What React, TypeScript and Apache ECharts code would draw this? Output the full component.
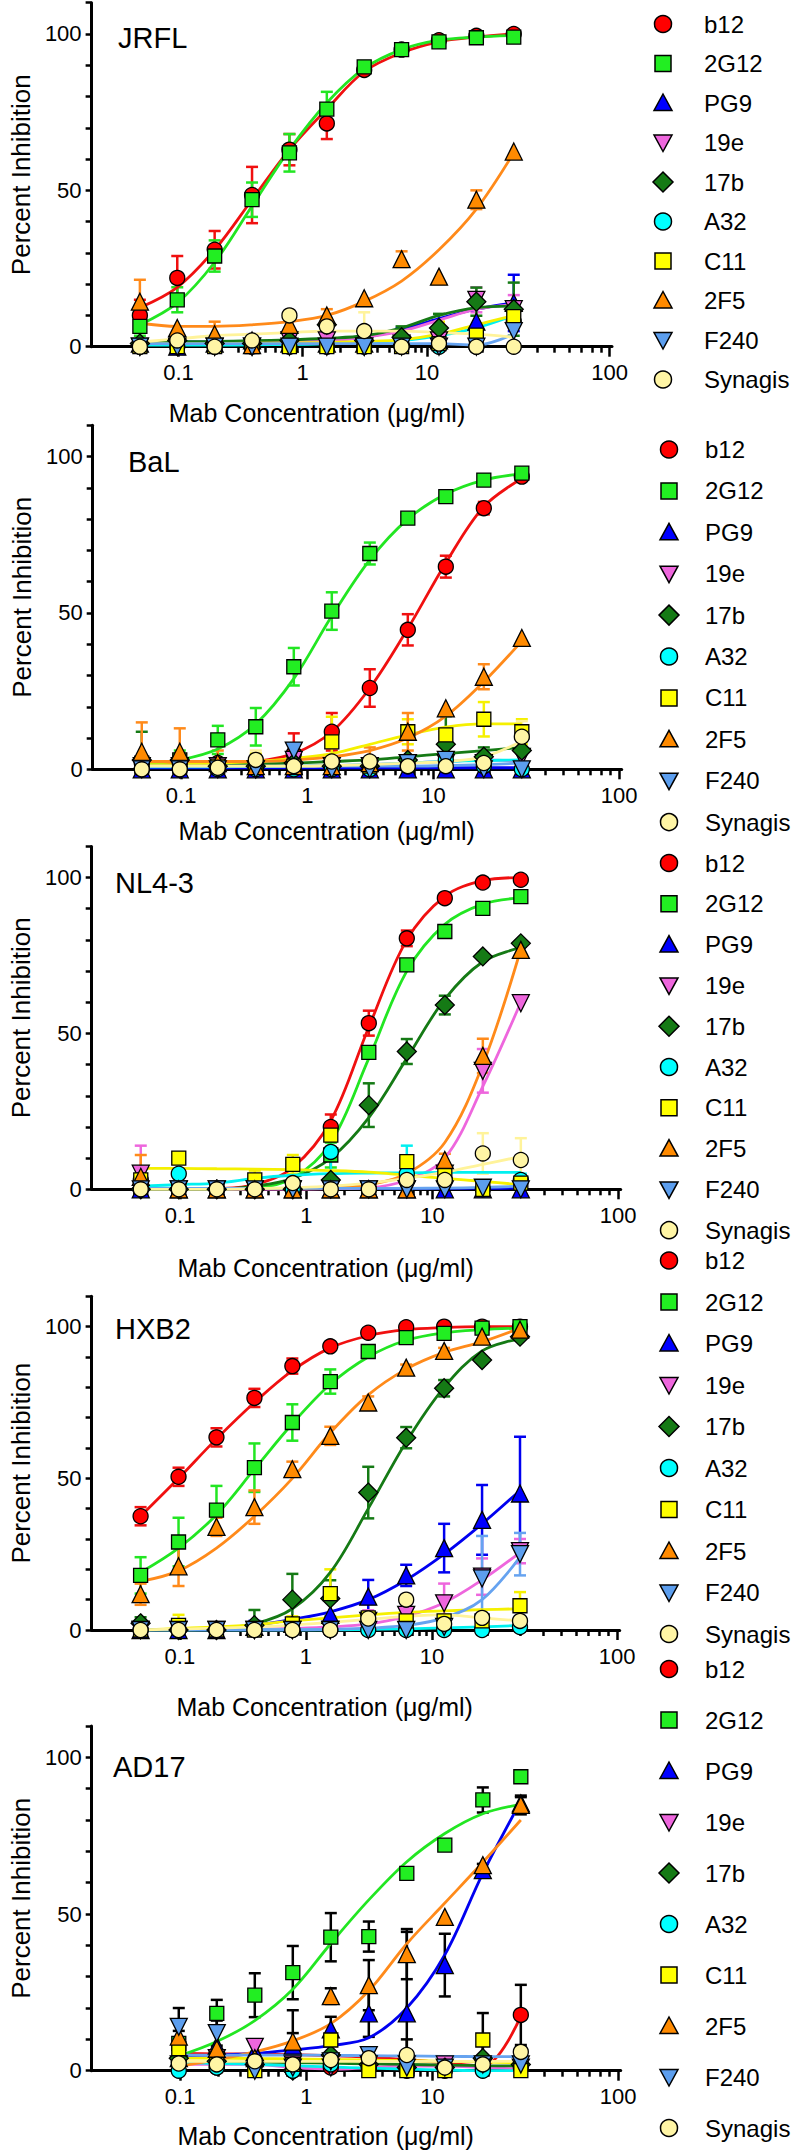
import React, { useEffect, useRef } from 'react';
import * as echarts from 'echarts';

// ---------------- data ----------------
const CONC = [0.048828125, 0.09765625, 0.1953125, 0.390625, 0.78125, 1.5625, 3.125, 6.25, 12.5, 25, 50];
const ANTIBODIES = ['b12', '2G12', 'PG9', '19e', '17b', 'A32', 'C11', '2F5', 'F240', 'Synagis'];
const PANELS = ['JRFL', 'BaL', 'NL4-3', 'HXB2', 'AD17'];
const X_TICK_LABELS = ['0.1', '1', '10', '100'];
const Y_TICK_LABELS = [0, 50, 100];
const X_NAME = 'Mab Concentration (\u03bcg/ml)';
const Y_NAME = 'Percent Inhibition';

// rows follow ANTIBODIES, columns follow CONC
const JRFL_MEAN = [
  [10, 22, 31, 48.5, 63, 71.4, 88.5, 95, 98, 99.4, 100],
  [6.5, 15, 29, 47, 62, 76, 89.5, 95, 97.5, 98.8, 99],
  [1, 0, 1, 2, 1, 1, 1, 3, 2, 8, 14],
  [0, 0, 0, 0, 2, 2, 0, 1, 2, 15, 12],
  [1, 2, 1, 1, 2, 7, 2, 3, 6, 14.4, 12],
  [0, 0, 0, 0, 0, 0, 0, 0, 0, 0, 8],
  [0, 0, 0, 0, 0, 0, 0, 0, 1, 3.7, 9.6],
  [14.4, 6, 4, 0.5, 7, 10, 15.5, 28, 22.4, 47, 62.4],
  [0, 0, 0, 0, 0, 0, 0, 0, 0, 0, 5],
  [0, 2, 0, 2, 10, 6.5, 5, 0, 1, 0, 0],
];
const JRFL_SEM = [
  [5, 7, 6, 9, 5, 5, 1, 1, 1, 1, 0.5],
  [3, 4, 5, 5.5, 6, 5.5, 1, 1, 1, 1, 1],
  [0, 0, 0, 2, 0, 0, 0, 3, 0, 0, 9],
  [0, 0, 0, 0, 0, 0, 0, 0, 0, 4, 4.5],
  [0, 0, 0, 0, 0, 2, 0, 3.5, 4.5, 4.5, 8.5],
  [0, 0, 0, 0, 0, 0, 0, 0, 0, 0, 0],
  [0, 0, 0, 0, 0, 0, 0, 0, 7, 0, 0],
  [7, 0, 4, 0, 0, 2, 0, 2.5, 0, 3, 0],
  [0, 0, 0, 0, 0, 0, 0, 0, 0, 0, 0],
  [0, 0, 0, 0, 0, 0, 6, 0, 0, 0, 0],
];
const JRFL_FIT = [
  [12.5, 19, 31, 47, 63, 76, 88, 94, 97.5, 99, 100],
  [7, 14, 27, 45, 63, 78, 89, 95, 98, 99, 99.5],
  [1.5, 1.5, 1.5, 1.6, 1.8, 2.2, 3, 5.5, 9, 12, 14],
  [1.2, 1.2, 1.3, 1.4, 1.6, 2, 3, 5, 8.5, 12, 13.5],
  [1.5, 1.6, 1.7, 1.9, 2.2, 2.7, 3.5, 6, 10, 12.5, 13],
  [0.5, 0.5, 0.5, 0.6, 0.7, 0.9, 1.3, 2, 3.5, 6, 10],
  [1, 1, 1, 1.1, 1.2, 1.4, 1.7, 2.2, 4, 7, 10],
  [7.5, 6.5, 6.5, 7, 8, 10, 14.5, 21, 31, 44, 62],
  [1, 1, 1, 1, 1, 1, 1, 1, 1, 0.5, 4],
  [1.5, 2.5, 3.5, 4, 4.5, 5, 5, 5, 4.5, 4, 3],
];

const BAL_MEAN = [
  [2, 2, 2, 1, 5, 12, 26, 44.6, 64.8, 83.5, 93.6],
  [2, 3, 9.4, 13.6, 32.8, 50.6, 69, 80.3, 87.2, 92.5, 94.7],
  [0, 0, 0, 0, 0, 0, 0, 0, 0, 0, 0],
  [1, 1, 1, 0, 3, 1, 1, 2, 2, 2, 4],
  [3, 3, 1, 1, 2, 1, 1, 3, 8, 4, 6],
  [0, 0, 0, 0, 0, 0, 0, 1, 3, 1, 0],
  [1, 1, 1, 1, 1, 8.8, 1, 12, 11, 16, 12],
  [5.6, 5.6, 2, 1, 1, 1, 2, 12, 19.5, 29.6, 42],
  [0, 0, 0, 0, 6, 0, 0, 2, 3, 0, 0],
  [0, 0, 0.5, 3, 1, 2.5, 2.5, 1, 1, 2, 10.4],
];
const BAL_SEM = [
  [0, 0, 0, 0, 6.5, 6, 6, 5, 3.5, 2, 0],
  [0, 3, 4.5, 6, 6, 6, 3.5, 1, 1, 1, 0.5],
  [0, 0, 0, 0, 0, 0, 0, 0, 0, 0, 0],
  [0, 0, 0, 0, 0, 0, 0, 0, 0, 0, 0],
  [9, 0, 0, 0, 0, 0, 0, 0, 9, 3, 4],
  [0, 0, 0, 0, 0, 0, 0, 0, 0, 0, 0],
  [3, 0, 0, 4, 0, 8, 0, 4, 0, 5.5, 4],
  [9.4, 7.5, 4, 0, 0, 0, 5, 6, 0, 4, 0],
  [0, 0, 0, 0, 0, 0, 0, 0, 0, 0, 0],
  [0, 0, 0, 3, 0, 0, 0, 0, 0, 0, 5],
];
const BAL_FIT = [
  [2, 2, 2, 2.5, 5, 12, 26, 45, 66, 84, 93],
  [1.5, 3, 6.5, 14.5, 29, 49, 67, 80, 88, 92.5, 94.5],
  [0.5, 0.5, 0.5, 0.5, 0.5, 0.5, 0.5, 0.5, 0.5, 0.5, 0.5],
  [1, 1, 1, 1, 1, 1.2, 1.5, 2, 2.5, 3, 2.5],
  [1.2, 1.3, 1.5, 1.7, 2, 2.5, 3, 4, 5, 6, 7],
  [0.8, 0.8, 0.8, 0.9, 1, 1.2, 1.5, 2, 2.5, 2.8, 3],
  [1.5, 1.5, 2, 2.5, 3.5, 5, 8, 11, 13.5, 14.5, 14.5],
  [2.5, 2.5, 2.5, 2.5, 3, 4, 6, 10, 17, 28, 41],
  [1, 1, 1, 1, 1, 1, 1, 1, 1.2, 1.5, 2],
  [1, 1, 1, 1, 1, 1.2, 1.5, 2, 2.5, 4, 9],
];

const NL43_MEAN = [
  [0, 0, 0, 0, 0, 20, 53.3, 80.5, 93.4, 98.4, 99.3],
  [0, 0, 0, 0, 0, 11, 43.9, 72, 82.7, 90.1, 93.9],
  [0, 0, 0, 0, 0, 0, 0, 0, 0, 0, 0],
  [5, 0, 0, 0, 0, 0, 0, 0, 5, 38, 59.7],
  [0, 0, 0, 0, 0, 3, 27, 44.2, 59.1, 74.7, 78.9],
  [3, 5, 0, 0, 0, 12, 0, 5, 3, 0, 3],
  [3, 10, 0, 3, 8, 17.4, 0, 8.9, 5, 0, 2],
  [4, 0, 0, 0, 0, 0, 0, 0, 9.4, 42.8, 76.8],
  [0, 0, 0, 0, 0, 0, 0, 0, 0, 0.5, 0],
  [0, 0, 0, 0, 2, 0, 0, 3, 3, 11.5, 9.4],
];
const NL43_SEM = [
  [0, 0, 0, 0, 0, 4, 4, 2.5, 1, 0.5, 0.5],
  [0, 0, 0, 0, 0, 4, 0, 1, 1, 1, 0.5],
  [0, 0, 0, 0, 0, 0, 0, 0, 0, 0, 0],
  [9, 0, 0, 0, 0, 0, 0, 0, 0, 7, 0],
  [0, 0, 0, 0, 0, 7, 7, 4, 3, 1, 1],
  [0, 0, 0, 0, 0, 9, 0, 9, 0, 0, 2],
  [0, 0, 0, 3, 3, 0, 0, 0, 0, 0, 0],
  [7, 0, 0, 0, 0, 0, 0, 0, 2, 5.5, 2],
  [0, 0, 0, 0, 0, 0, 0, 0, 0, 0, 0],
  [0, 0, 0, 0, 0, 0, 0, 0, 0, 6.5, 7],
];
const NL43_FIT = [
  [0, 0, 0.2, 1.5, 7, 22, 52, 80, 94, 99, 100],
  [0, 0, 0, 0.5, 3.5, 15, 42, 70, 85, 91.5, 93.5],
  [0.3, 0.3, 0.3, 0.3, 0.3, 0.3, 0.3, 0.3, 0.3, 0.3, 0.5],
  [0, 0, 0, 0, 0, 0.2, 0.5, 3, 10, 33, 60],
  [0, 0, 0, 1, 3.5, 10, 23, 42, 61, 73, 77.5],
  [1, 1.5, 2, 3.5, 4.5, 5, 5.2, 5.3, 5.4, 5.4, 5.4],
  [6.7, 6.7, 6.6, 6.5, 6.3, 6, 5.5, 4.5, 3.5, 2.5, 1.5],
  [0.2, 0.2, 0.2, 0.2, 0.2, 0.5, 1.5, 5, 15, 40, 77],
  [0.3, 0.3, 0.3, 0.3, 0.3, 0.3, 0.3, 0.3, 0.4, 0.6, 1],
  [0, 0, 0, 0.2, 0.5, 1, 2, 3.5, 5.5, 8, 10.5],
];

const HXB2_MEAN = [
  [37.5, 50.5, 63.5, 76.5, 87, 93.5, 98, 99.8, 100, 100, 100],
  [18, 29, 39.5, 53.5, 68.4, 81.9, 91.8, 96.4, 97.8, 99.5, 100],
  [0, 0, 0, 1, 2, 5, 11, 18, 27, 36.3, 45],
  [0, 0, 0, 0, 0, 0, 3, 5, 8.8, 17.6, 26],
  [2.2, 0, 0, 1.6, 10, 10.4, 45.3, 63.4, 79.7, 89, 96.7],
  [0, 0, 0, 0, 0, 0, 0, 0, 0, 0, 1],
  [0, 1.5, 0, 0, 2, 12, 4, 3, 3, 3, 8],
  [11.8, 21, 34, 40.5, 53, 64, 75, 86.5, 92, 96.7, 99],
  [0, 0, 0, 0, 0, 0, 0, 0, 1, 17, 25],
  [0, 0, 0, 0, 0, 0, 3.8, 10, 2, 4, 3],
];
const HXB2_SEM = [
  [3, 3, 3, 3, 2.5, 1, 0.5, 0.5, 0.5, 0.5, 0.5],
  [6, 8, 8, 8, 6, 4, 2, 1, 1, 1, 0.5],
  [0, 0, 0, 2, 0, 0, 5.5, 3.5, 8, 11.5, 18.7],
  [0, 0, 0, 0, 0, 0, 3.5, 3, 6.5, 6, 4],
  [2, 0, 0, 5, 8.5, 6, 8.5, 3.5, 2.7, 1, 1],
  [0, 0, 0, 0, 0, 0, 0, 0, 0, 0, 0],
  [0, 3.5, 0, 0, 2.5, 8, 0, 4, 0, 0, 4.5],
  [3.5, 6.5, 3, 5.5, 2.5, 3, 2, 1, 1, 1, 1],
  [0, 0, 0, 0, 0, 0, 0, 0, 0, 14, 7],
  [0, 0, 0, 0, 0, 0, 0, 0, 0, 0, 0],
];
const HXB2_FIT = [
  [37.5, 50, 63, 75, 85.5, 93, 97, 99, 99.7, 100, 100],
  [19, 27, 38, 53, 68, 81, 90, 95.5, 98, 99, 99.5],
  [0, 0.2, 0.5, 1.5, 3.5, 6, 10, 16.5, 25, 35, 46],
  [0, 0, 0.1, 0.2, 0.5, 1, 2, 4.5, 9, 16.5, 25.5],
  [0, 0, 0.5, 2, 7, 19, 40, 62, 80, 92, 96],
  [0, 0, 0, 0, 0, 0, 0.2, 0.4, 0.7, 1, 1.5],
  [0, 0.5, 1, 1.8, 3, 4, 5, 5.8, 6.3, 6.7, 7],
  [16, 19.5, 27, 37.5, 50, 65, 77.5, 86, 91.5, 95, 99.5],
  [0, 0, 0, 0, 0, 0.2, 0.6, 1.5, 4, 10, 24],
  [0, 0.3, 0.6, 1, 1.6, 2.5, 3.5, 4.5, 5, 4, 3],
];

const AD17_MEAN = [
  [null, 3, 1, 2, 0, 1, 1, 0, 0, 1, 17.8],
  [null, 8.7, 18.3, 24.1, 31.3, 42.6, 42.8, 63, 72, 86.4, 93.8],
  [null, 4, 8, 6, 8, 13.2, 18.3, 18.3, 33.7, 64, 85.3],
  [null, 2, 4, 7.6, 2, 1, 2, 2, 2, 1, 1],
  [null, 4, 3, 2, 0, 5, 2, 1, 1, 4, 2],
  [null, 0, 1, 2, 0, 2, 1, 1, 1, 0, 1],
  [null, 7, 4, 0, 2, 9.8, 0, 0, 0, 9.8, 0],
  [null, 10.9, 7, 4, 9.3, 23.8, 27.3, 37.2, 49.1, 65.6, 84.8],
  [null, 14, 12, 0, 1, 3, 5, 1, 1, 2, 2],
  [null, 2.3, 2, 3, 2, 3.4, 4, 5, 1, 2, 6],
];
const AD17_SEM = [
  [0, 0, 0, 0, 0, 0, 0, 0, 0, 0, 9.6],
  [0, 4, 4.3, 7, 8.5, 7.7, 4.8, 0, 0, 4, 0],
  [0, 0, 0, 0, 4, 4, 7.5, 26, 10, 2, 2],
  [0, 0, 0, 0, 0, 0, 0, 0, 0, 0, 0],
  [0, 0, 0, 0, 0, 0, 0, 0, 0, 0, 0],
  [0, 0, 0, 0, 0, 0, 0, 0, 0, 0, 0],
  [0, 0, 0, 0, 0, 0, 0, 0, 0, 8.6, 0],
  [0, 0, 0, 0, 10, 2.5, 8, 8, 0, 0, 3],
  [0, 6, 4, 0, 0, 0, 0, 0, 0, 0, 0],
  [0, 0, 0, 0, 0, 0, 0, 5, 0, 8, 0],
];
const AD17_FIT = [
  [null, 5.5, 5.4, 5.3, 5.1, 4.8, 4.3, 3.5, 2.5, 1.5, 17.5],
  [null, 4.7, 9.3, 16, 26, 40.6, 54.5, 66.7, 75.7, 82, 85],
  [null, 4.7, 5, 5.5, 6.6, 8, 10.5, 20, 37, 63, 86],
  [null, 2, 2, 2, 1, 0.5, 1, 1.5, 1.5, 1, 0.5],
  [null, 3, 3, 2.8, 2.6, 2.4, 2.2, 2, 1.8, 1.6, 1.5],
  [null, 2.5, 2.3, 2, 1.6, 1.2, 0.8, 0.5, 0.2, 0, 0],
  [null, 4, 4, 3.9, 3.8, 3.6, 3.4, 3.2, 3, 2.8, 2.5],
  [null, 1.3, 3.5, 6, 9.5, 15, 25.5, 40.5, 53.5, 66.5, 80],
  [null, 5, 5, 5, 5, 4.9, 4.8, 4.7, 4.6, 4.5, 4.5],
  [null, 3, 3, 3, 3, 3, 3, 3, 3, 3, 3],
];

const PANEL_MEAN = [JRFL_MEAN, BAL_MEAN, NL43_MEAN, HXB2_MEAN, AD17_MEAN];
const PANEL_SEM = [JRFL_SEM, BAL_SEM, NL43_SEM, HXB2_SEM, AD17_SEM];
const PANEL_FIT = [JRFL_FIT, BAL_FIT, NL43_FIT, HXB2_FIT, AD17_FIT];

// ---------------- styles / layout ----------------
const FONT = "'Liberation Sans', Arial, Helvetica, sans-serif";
const FILL = ['#FF0000', '#22EE22', '#0000FF', '#EE66DD', '#157A15', '#00FFFF', '#FFFF00', '#FF8A00', '#5C9EEE', '#FFF5A5'];
const LINE = ['#F01010', '#22E622', '#0000F0', '#EE66DD', '#157A15', '#00F0F0', '#F5F000', '#FF8A1A', '#66A3F0', '#FFF39A'];
const SYMBOL = ['circle', 'rect', 'triangle', 'triangle', 'diamond', 'circle', 'rect', 'triangle', 'triangle', 'circle'];
const ROTATE = [0, 0, 0, 180, 0, 0, 0, 0, 180, 0];
const SIZE = [15, 14, 17, 17, 19, 15, 14, 17, 17, 15];
const ERR_BLACK = [false, false, false, false, true];

const GRID_WIDTH = 529;
const X_MIN = -1.7;
const X_MAX = 2.49;
const X_TICK_POS = [-1, 0, 1, 2.47];
const LAYOUT = [
  { left: 83, top: 2.7, height: 344, titleX: 118, titleY: 38, xNameY: 413, legX: 663, legTextX: 704, legY0: 24, legDy: 39.5 },
  { left: 92.7, top: 425.3, height: 344, titleX: 128, titleY: 462, xNameY: 831, legX: 669, legTextX: 705, legY0: 449.5, legDy: 41.4 },
  { left: 91.7, top: 846.4, height: 342.9, titleX: 115, titleY: 883, xNameY: 1268, legX: 669, legTextX: 705, legY0: 863, legDy: 40.8 },
  { left: 90.7, top: 1296.3, height: 333.7, titleX: 115, titleY: 1329, xNameY: 1707, legX: 669, legTextX: 705, legY0: 1260.5, legDy: 41.5 },
  { left: 91.7, top: 1726, height: 344.7, titleX: 113, titleY: 1767, xNameY: 2136, legX: 669, legTextX: 705, legY0: 1669, legDy: 51 },
];

function minorTicks(): number[] {
  const out: number[] = [];
  for (let k = 2; k <= 9; k++) out.push(Math.log10(k / 10));
  for (let k = 2; k <= 9; k++) out.push(Math.log10(k));
  for (let k = 2; k <= 9; k++) out.push(1 + Math.log10(k) * (X_TICK_POS[3] - 1));
  return out;
}

function legendSymbol(i: number, x: number, y: number) {
  const style = { fill: FILL[i], stroke: '#000', lineWidth: 1.5 };
  const s = SYMBOL[i];
  if (s === 'circle') return { type: 'circle', shape: { cx: x, cy: y, r: 8.5 }, style };
  if (s === 'rect') return { type: 'rect', shape: { x: x - 8, y: y - 8, width: 16, height: 16 }, style };
  if (s === 'diamond') return { type: 'polygon', shape: { points: [[x, y - 10], [x + 10, y], [x, y + 10], [x - 10, y]] }, style };
  if (ROTATE[i] === 180) return { type: 'polygon', shape: { points: [[x - 9, y - 7.5], [x + 9, y - 7.5], [x, y + 9]] }, style };
  return { type: 'polygon', shape: { points: [[x, y - 9], [x + 9, y + 7.5], [x - 9, y + 7.5]] }, style };
}

function buildOption() {
  const grid: any[] = [];
  const xAxis: any[] = [];
  const yAxis: any[] = [];
  const series: any[] = [];
  const graphic: any[] = [];
  const minor = minorTicks();

  PANELS.forEach((title, p) => {
    const L = LAYOUT[p];
    grid.push({ left: L.left, top: L.top, width: GRID_WIDTH, height: L.height, containLabel: false });
    xAxis.push({
      type: 'value', gridIndex: p, min: X_MIN, max: X_MAX, position: 'bottom',
      axisLine: { show: true, onZero: false, lineStyle: { color: '#000', width: 3 } },
      axisTick: { show: true, customValues: X_TICK_POS, length: 10, lineStyle: { color: '#000', width: 2.5 } },
      axisLabel: {
        show: true, customValues: X_TICK_POS, margin: 15, fontSize: 22, color: '#000', fontFamily: FONT,
        formatter: (v: number) => {
          const i = X_TICK_POS.findIndex((q) => Math.abs(q - v) < 1e-6);
          return i >= 0 ? X_TICK_LABELS[i] : '';
        },
      },
      splitLine: { show: false },
    });
    xAxis.push({
      type: 'value', gridIndex: p, min: X_MIN, max: X_MAX, position: 'bottom',
      axisLine: { show: false, onZero: false },
      axisTick: { show: true, customValues: minor, length: 6, lineStyle: { color: '#000', width: 2.5 } },
      axisLabel: { show: false },
      splitLine: { show: false },
    });
    yAxis.push({
      type: 'value', gridIndex: p, min: 0, max: 110, interval: 10, position: 'left',
      name: Y_NAME, nameLocation: 'middle', nameGap: 57,
      nameTextStyle: { fontSize: 26, color: '#000', fontFamily: FONT },
      axisLine: { show: true, onZero: false, lineStyle: { color: '#000', width: 3 } },
      axisTick: { show: true, length: 6, lineStyle: { color: '#000', width: 2.5 } },
      axisLabel: {
        margin: 10, fontSize: 22, color: '#000', fontFamily: FONT,
        formatter: (v: number) => (Y_TICK_LABELS.indexOf(v) >= 0 ? String(v) : ''),
      },
      splitLine: { show: false },
    });

    const mean = PANEL_MEAN[p];
    const sem = PANEL_SEM[p];
    const fit = PANEL_FIT[p];
    ANTIBODIES.forEach((ab, i) => {
      const errColor = ERR_BLACK[p] ? '#000' : LINE[i];
      const errData: number[][] = [];
      const ptData: number[][] = [];
      const fitData: number[][] = [];
      CONC.forEach((c, k) => {
        const u = Math.log10(c);
        const m = mean[i][k];
        const e = sem[i][k];
        const f = fit[i][k];
        if (m !== null && m !== undefined) {
          ptData.push([u, m]);
          if (e) errData.push([u, m, e]);
        }
        if (f !== null && f !== undefined) fitData.push([u, f]);
      });
      series.push({
        name: ab + ' ' + title + ' SEM', type: 'custom', xAxisIndex: 2 * p, yAxisIndex: p, z: 2, silent: true,
        dimensions: ['x', 'y', 'e'], encode: { x: 0, y: 1 }, data: errData,
        renderItem: (params: any, api: any) => {
          const x = api.value(0);
          const y = api.value(1);
          const e = api.value(2);
          const top = api.coord([x, Math.min(110, y + e)]);
          const bot = api.coord([x, Math.max(0, y - e)]);
          const st = { stroke: errColor, lineWidth: 2.5 };
          return {
            type: 'group',
            children: [
              { type: 'line', shape: { x1: top[0], y1: top[1], x2: bot[0], y2: bot[1] }, style: st },
              { type: 'line', shape: { x1: top[0] - 6, y1: top[1], x2: top[0] + 6, y2: top[1] }, style: st },
              { type: 'line', shape: { x1: bot[0] - 6, y1: bot[1], x2: bot[0] + 6, y2: bot[1] }, style: st },
            ],
          };
        },
      });
      series.push({
        name: ab + ' ' + title + ' fit', type: 'line', xAxisIndex: 2 * p, yAxisIndex: p, z: 3, silent: true,
        data: fitData, smooth: 0.35, showSymbol: false, symbol: 'none',
        lineStyle: { color: LINE[i], width: 2.8 },
      });
      series.push({
        name: ab, type: 'scatter', xAxisIndex: 2 * p, yAxisIndex: p, z: 4, silent: true,
        data: ptData, symbol: SYMBOL[i], symbolRotate: ROTATE[i], symbolSize: SIZE[i],
        itemStyle: { color: FILL[i], borderColor: '#000', borderWidth: 1.3, opacity: 1 },
      });
      // legend row
      const ly = L.legY0 + L.legDy * i;
      graphic.push(legendSymbol(i, L.legX, ly));
      graphic.push({
        type: 'text', x: L.legTextX, y: ly,
        style: { text: ab, fontSize: 24, fontFamily: FONT, fill: '#000', align: 'left', verticalAlign: 'middle' },
      });
    });

    // panel title
    graphic.push({
      type: 'text', x: L.titleX, y: L.titleY,
      style: { text: title, fontSize: 29, fontFamily: FONT, fill: '#000', align: 'left', verticalAlign: 'middle' },
    });
    // x axis title
    graphic.push({
      type: 'text', x: L.left + 234, y: L.xNameY,
      style: { text: X_NAME, fontSize: 25, fontFamily: FONT, fill: '#000', align: 'center', verticalAlign: 'middle' },
    });
  });

  return {
    animation: false,
    backgroundColor: '#fff',
    textStyle: { fontFamily: FONT },
    grid, xAxis, yAxis, series, graphic,
  };
}

export default function App() {
  const ref = useRef<HTMLDivElement>(null);
  useEffect(() => {
    if (!ref.current) return;
    const chart = echarts.init(ref.current, null, { renderer: 'svg' });
    chart.setOption(buildOption() as any);
    return () => chart.dispose();
  }, []);
  return (
    <div
      ref={ref}
      style={{ position: 'absolute', left: 0, top: 0, width: 800, height: 2154, background: '#fff' }}
    />
  );
}
